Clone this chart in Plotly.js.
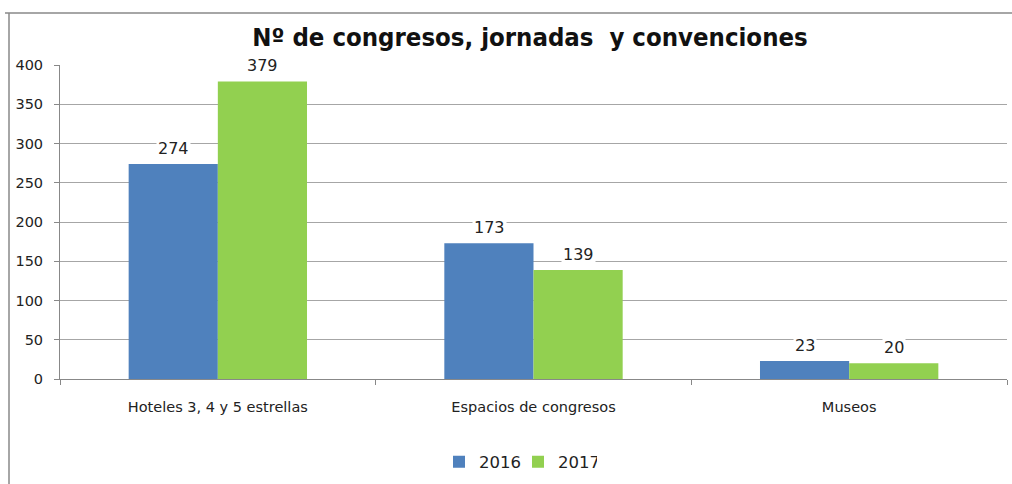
<!DOCTYPE html>
<html><head><meta charset="utf-8">
<script src="https://cdn.plot.ly/plotly-3.0.1.min.js"></script>
<style>html,body{margin:0;padding:0;background:#fff}#chart{width:1012px;height:484px}</style>
</head><body><div id="chart"></div>
<script>
const categories = ["Hoteles 3, 4 y 5 estrellas", "Espacios de congresos", "Museos"];
const values2016 = [274, 173, 23];
const values2017 = [379, 139, 20];
const seriesNames = ["2016", "2017"];
const yTicks = [0, 50, 100, 150, 200, 250, 300, 350, 400];

const W = 1012, H = 484, L = 60, R = 5, T = 65, B = 105;
const pw = W - L - R, ph = H - T - B;
const px = x => (x - L) / pw;
const py = y => (H - B - y) / ph;

const fam = "DejaVu Sans, Verdana, sans-serif";
const colors = ["#4F81BD", "#92D050"];
function bar(name, vals, color) {
  return {type: "bar", name: name, x: categories, y: vals, marker: {color: color},
    hoverinfo: "skip"};
}
const data = [bar(seriesNames[0], values2016, colors[0]), bar(seriesNames[1], values2017, colors[1])];

// value labels with white background (like the original), placed via the axes
const barHalf = 44.5;
const annotations = [];
[values2016, values2017].forEach((vals, si) => {
  vals.forEach((v, i) => {
    annotations.push({x: categories[i], y: v, xref: "x", yref: "y", text: String(v),
      showarrow: false, xshift: si === 0 ? -barHalf : barHalf, yanchor: "bottom", yshift: 4,
      bgcolor: "#fff", borderpad: 1,
      font: {family: fam, size: 16, color: "#222"}});
  });
});

const layout = {
  width: W, height: H, margin: {l: L, r: R, t: T, b: B},
  paper_bgcolor: "#fff", plot_bgcolor: "#fff",
  font: {family: fam, size: 14, color: "#222"},
  title: {text: "<b>Nº de congresos, jornadas  y convenciones</b>",
    font: {family: "Liberation Sans Narrow, Arial Narrow, DejaVu Sans Condensed, sans-serif", size: 25.5, color: "#111"},
    x: px(530), xanchor: "center", xref: "paper", y: 1 - 37 / H, yanchor: "middle"},
  barmode: "group", bargap: 0.435, bargroupgap: 0,
  xaxis: {type: "category", showgrid: false, showline: true, linecolor: "#888", linewidth: 1,
    ticks: "outside", tickson: "boundaries", ticklen: 5, tickcolor: "#888",
    ticklabelstandoff: 15,
    tickfont: {family: fam, size: 14.5, color: "#222"}},
  yaxis: {range: [0, 400], tickvals: yTicks, showgrid: true, gridcolor: "#A6A6A6", gridwidth: 1,
    showline: true, linecolor: "#888", ticks: "outside", ticklen: 5, tickcolor: "#888",
    zeroline: false, ticklabelstandoff: 8,
    tickfont: {family: fam, size: 14.5, color: "#222"}},
  showlegend: true,
  legend: {orientation: "h", x: px(439), xanchor: "left", y: py(462), yanchor: "middle",
    font: {family: fam, size: 16.5, color: "#222"}, itemwidth: 30, entrywidth: 34, entrywidthmode: "pixels",
    traceorder: "normal"},
  annotations: annotations,
  shapes: [
    {type: "line", xref: "paper", yref: "paper", x0: px(5), x1: px(1012), y0: py(13), y1: py(13), line: {color: "#888", width: 1.5}},
    {type: "line", xref: "paper", yref: "paper", x0: px(9), x1: px(9), y0: py(13), y1: py(484), line: {color: "#888", width: 1.5}}
  ]
};
Plotly.newPlot("chart", data, layout, {staticPlot: true});
</script></body></html>
